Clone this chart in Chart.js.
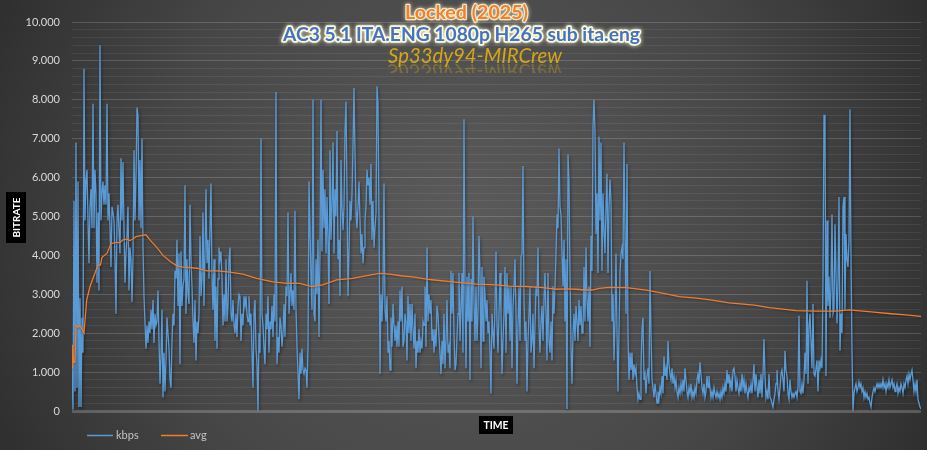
<!DOCTYPE html>
<html>
<head>
<meta charset="utf-8">
<script src="https://cdn.jsdelivr.net/npm/chart.js@4.4.1/dist/chart.umd.min.js"></script>
<style>
html,body{margin:0;padding:0;background:#3a3a3a;}
#wrap{width:927px;height:450px;position:relative;overflow:hidden;}
canvas{display:block;}
</style>
</head>
<body>
<div id="wrap"><canvas id="c" width="927" height="450"></canvas></div>
<script>
// ---------- DATA ----------
const titleLines = ['Locked (2025)', 'AC3 5.1 ITA.ENG 1080p H265 sub ita.eng', 'Sp33dy94-MIRCrew'];
const seriesNames = ['kbps', 'avg'];
const yAxisTitle = 'BITRATE';
const xAxisTitle = 'TIME';
const yTickLabels = ['0', '1.000', '2.000', '3.000', '4.000', '5.000', '6.000', '7.000', '8.000', '9.000', '10.000'];

// bitrate samples (kbps), evenly spaced in time
const kbps = [
  1100, 30, 5400, 500, 6900, 600, 5900, 100, 2900, 100,
  2400, 1500, 8800, 4900, 5900, 6200, 4900, 3800, 5250, 5700,
  4700, 7900, 4700, 6200, 5600, 3300, 5100, 3100, 9400, 4900,
  5600, 5900, 5300, 5800, 5300, 7900, 4900, 5600, 4700, 3700,
  5250, 5100, 4900, 3900, 2500, 4900, 5300, 4600, 4050, 6500,
  4900, 6400, 4700, 3300, 4050, 4500, 5250, 3100, 4200, 3900,
  2800, 3900, 6700, 4900, 6000, 7800, 7600, 4900, 6450, 4700,
  7000, 4200, 2950, 2250, 1600, 2200, 1750, 2300, 2000, 2600,
  2100, 2850, 1750, 2500, 2200, 2300, 3100, 1800, 700, 1400,
  2600, 350, 1500, 500, 1300, 2400, 2000, 1600, 800, 600,
  1800, 2500, 2200, 3600, 3400, 4400, 2700, 4050, 1200, 4100,
  2700, 3200, 3400, 5800, 2500, 3900, 3000, 2750, 5300, 3900,
  3200, 2300, 1750, 2850, 1300, 2300, 2000, 2500, 4500, 2950,
  3400, 5100, 2700, 4050, 5700, 3800, 4400, 3400, 4700, 5850,
  3450, 2600, 3900, 1800, 3200, 1600, 3400, 4200, 3900, 4100,
  3400, 2200, 3000, 2300, 3900, 2300, 2700, 3900, 4200, 2500,
  2300, 2850, 2200, 2000, 2500, 1900, 2700, 3000,

  2950, 1800, 2500, 2200, 2950, 2700, 2950, 2500, 2300, 2950,
  2200, 2500, 1500, 600, 2500, 2850, 1600, 1200, 0, 2000,
  1500, 7000, 2500, 2200, 1600, 1200, 2500, 2100, 2950, 1500,
  2300, 2100, 2700, 1900, 3000, 2300, 8200, 1200, 1900, 1500,
  2400, 2200, 1650, 2000, 2750, 1900, 3200, 2950, 5100, 2500,
  2950, 3550, 2700, 3100, 2600, 5150, 2600, 1650, 950, 300,
  1500, 950, 1600, 1050, 950, 1100, 1050, 600, 1650, 5900,
  4700, 3400, 2600, 8000, 2500, 2300, 3900, 3000, 4400, 1900,
  4100, 8000, 4100, 6200, 4700, 5700, 4050, 5500, 4400, 2750,
  6700, 4400, 5250, 6900, 4050, 5700, 5000, 7200, 3900, 4400,
  2950, 6450, 5250, 4650, 5250, 7200, 7950, 5600, 2950, 4050,
  5400, 4900, 5600, 6800, 8300, 6700, 5100, 4700, 5250, 5900,
  4900, 4050, 4550, 3800, 4200, 4900, 5250, 6200, 5800, 6000,
  5300, 6350, 4400, 5400, 4200, 4700, 5100, 8350, 7900, 4900,
  950, 3000, 2300, 3200, 5850, 2600, 2300, 2950, 1500, 1800,
  1050, 2400, 1650, 2750, 2250, 1800, 2200, 1650, 2300, 1650,
  3100, 2300, 3200, 1650, 1800, 2500, 2300, 1300, 2950, 2000,
  2750,

  1800, 2750, 2100, 1600, 2500, 1100, 1800, 1500, 2100, 1500,
  1800, 1600, 2300, 2200, 3200, 1650, 4200, 2300, 3000, 2500,
  2850, 1800, 2100, 1500, 2100, 1650, 2700, 2500, 1900, 1500,
  950, 1800, 1200, 2500, 1100, 1800, 2850, 1500, 1650, 1100,
  3600, 2500, 3550, 2000, 1050, 1200, 1900, 2500, 3550, 1800,
  2700, 3550, 1500, 7500, 3000, 1100, 3450, 2300, 3550, 800,
  3400, 2300, 5000, 2750, 1800, 3200, 1800, 2500, 4500, 3550,
  1100, 3700, 1800, 3450, 3000, 2300, 2850, 2000, 2300, 1500,
  450, 2500, 2000, 1600, 2700, 4100, 2200, 1500, 2500, 3550,
  2500, 950, 1800, 2500, 3700, 1500, 3550, 2500, 3200, 1800,
  3200, 1100, 2700, 3200, 3900, 2500, 700, 2200, 3200, 1800,
  3950, 4050, 6300, 2850, 1800, 2300, 500, 1800, 2500, 3200,
  1500, 1800, 2500, 1100, 2200, 3200, 2950, 4200, 2200, 1500,
  2300, 2700, 1800, 2850, 3550, 2500, 1300, 3550, 1800, 1500,
  2300, 1300, 3200, 2500, 3200, 4050, 5050, 4700, 6750, 5250,
  5050, 4050, 3200, 4400, 2300, 3900, 50, 6600, 5900, 3550,
  1650, 700, 2000, 2500, 1800, 2700, 2300, 1800, 2850, 2200,
  2700, 2000,

  2000, 3700, 2300, 4200, 2850, 2300, 3200, 1650, 4500, 3600,
  7300, 8000, 7200, 4550, 5600, 3550, 7050, 4900, 6900, 3600,
  5600, 4650, 4050, 5250, 6100, 3550, 5250, 5950, 5400, 2300,
  3000, 1300, 2300, 4050, 2000, 500, 2000, 3550, 4050, 4200,
  3900, 6900, 4550, 2500, 6350, 1900, 800, 1500, 1050, 1500,
  800, 1200, 950, 1100, 600, 300, 450, 300, 1100, 2100,
  2400, 800, 950, 450, 900, 1100, 700, 3600, 2000, 800,
  600, 350, 700, 450, 200, 500, 300, 600, 450, 900,
  450, 1400, 900, 1100, 800, 1800, 1200, 950, 800, 1100,
  700, 900, 600, 800, 500, 350, 600, 450, 700, 500,
  800, 500, 1100, 800, 500, 350, 600, 450, 700, 350,
  500, 350, 600, 450, 800, 950, 700, 1250, 950, 600,
  450, 700, 350, 500, 900, 600, 900, 600, 350, 500,
  350, 600, 450, 350, 500, 350, 450, 300, 500, 350,
  600, 450, 700, 500, 1050, 700, 950, 600, 800, 500,
  1050, 1100, 900, 500, 800, 600, 450, 700, 500, 950,
  600, 800, 450, 700, 500, 350, 600, 500, 700, 450,
  800, 1200,

  500, 950, 600, 350, 800, 450, 950, 350, 950, 1850,
  900, 350, 500, 300, 950, 350, 300, 200, 100, 300,
  450, 700, 1050, 500, 300, 600, 950, 1050, 800, 500,
  1550, 1050, 900, 450, 300, 800, 500, 350, 450, 350,
  450, 500, 350, 600, 2450, 500, 450, 700, 450, 800,
  1500, 950, 3350, 700, 2150, 2500, 1750, 1100, 2750, 950,
  900, 1100, 1300, 500, 1300, 1100, 1300, 1100, 3450, 7600,
  7600, 900, 4900, 2700, 3450, 2400, 3200, 5050, 2500, 2600,
  4800, 3550, 2250, 3350, 5500, 1550, 2500, 2000, 5250, 5500,
  2600, 4550, 3900, 3700, 4400, 7750, 3900, 1500, 0, 450,
  600, 700, 500, 600, 750, 600, 700, 500, 600, 350,
  500, 350, 450, 300, 350, 200, 100, 350, 500, 600,
  500, 600, 700, 600, 700, 600, 700, 600, 800, 600,
  700, 500, 700, 600, 800, 600, 700, 800, 600, 700,
  500, 600, 700, 450, 600, 500, 700, 600, 450, 700,
  600, 800, 900, 700, 950, 800, 950, 1050, 800, 500,
  700, 500, 800, 300, 200, 100, 50
];

// running average, read at these points of the running time (percent of duration)
const avgTimePct = [
  0, 0.08, 0.18, 0.35, 0.47, 0.71, 0.94, 1.18, 1.41, 1.73,
  2.12, 2.71, 3.06, 3.35, 3.53, 4.12, 4.59, 5.06, 5.65, 6.0,
  6.47, 6.82, 7.18, 7.53, 8.0, 8.71, 9.18, 10.0, 10.71, 11.53,
  12.35, 13.06, 14.71, 15.88, 17.06, 18.59, 20.12, 21.76, 23.65, 25.29,
  26.82, 28.24, 29.53, 31.18, 33.06, 34.71, 36.24, 37.41, 38.94, 40.12,
  42.12, 44.82, 47.65, 50.0, 51.53, 53.53, 55.41, 57.06, 58.24, 59.41,
  60.35, 61.29, 62.12, 63.29, 65.29, 67.65, 69.53, 71.53, 73.53, 75.41,
  77.41, 80.35, 82.12, 85.29, 87.65, 90.0, 91.53, 94.12, 96.47, 98.24,
  100
];
const avgKbps = [
  1100, 1700, 1250, 1250, 2200, 2150, 2200, 2100, 2000, 2850,
  3200, 3550, 3750, 3750, 3950, 4050, 4300, 4330, 4330, 4400,
  4420, 4380, 4420, 4480, 4500, 4530, 4400, 4200, 4000, 3850,
  3730, 3700, 3670, 3600, 3600, 3570, 3520, 3410, 3320, 3280,
  3280, 3200, 3240, 3370, 3410, 3480, 3540, 3520, 3470, 3450,
  3380, 3320, 3260, 3240, 3210, 3200, 3170, 3130, 3140, 3130,
  3110, 3110, 3150, 3180, 3170, 3110, 3030, 2940, 2900, 2850,
  2780, 2720, 2660, 2580, 2570, 2570, 2600, 2550, 2500, 2470,
  2430
];

// ---------- CHART ----------
const COL_KBPS = '#5B9BD5';
const COL_AVG = '#ED7D31';
const FONT = 'Lato, "Liberation Sans", sans-serif';

const N = kbps.length;
const kbpsPoints = kbps.map((v, i) => ({ x: i * 100 / (N - 1), y: v }));
const avgPoints = avgTimePct.map((t, i) => ({ x: t, y: avgKbps[i] }));

const bgPlugin = {
  id: 'bg',
  beforeDraw(chart) {
    const { ctx, width, height } = chart;
    ctx.save();
    const g = ctx.createRadialGradient(width * 0.5, height * 0.5, 10, width * 0.5, height * 0.5, width * 0.6);
    g.addColorStop(0, '#5a5a5a');
    g.addColorStop(0.55, '#474747');
    g.addColorStop(1, '#2a2a2a');
    ctx.fillStyle = g;
    ctx.fillRect(0, 0, width, height);
    ctx.restore();
  }
};

const shadowPlugin = {
  id: 'lineShadow',
  beforeDatasetDraw(chart, args) {
    const ctx = chart.ctx;
    ctx.save();
    if (args.index === 1) {
      ctx.shadowColor = 'rgba(0,0,0,0.45)';
      ctx.shadowBlur = 3;
      ctx.shadowOffsetX = 1;
      ctx.shadowOffsetY = 2;
    } else {
      ctx.shadowColor = 'rgba(0,0,0,0.3)';
      ctx.shadowBlur = 2;
      ctx.shadowOffsetY = 1;
    }
  },
  afterDatasetDraw(chart) {
    chart.ctx.restore();
  }
};

function fitFont(ctx, text, style, weight, target) {
  const base = 20;
  ctx.font = `${style} ${weight} ${base}px ${FONT}`;
  const w = ctx.measureText(text).width;
  const size = base * target / w;
  return `${style} ${weight} ${size.toFixed(2)}px ${FONT}`;
}

function glowText(ctx, text, font, cx, base, fill, glow, lw) {
  ctx.save();
  ctx.font = font;
  ctx.textAlign = 'center';
  ctx.textBaseline = 'alphabetic';
  ctx.lineJoin = 'round';
  ctx.shadowColor = glow;
  ctx.shadowBlur = 4;
  ctx.strokeStyle = glow;
  ctx.lineWidth = lw;
  ctx.strokeText(text, cx, base);
  ctx.shadowBlur = 0;
  ctx.fillStyle = fill;
  ctx.fillText(text, cx, base);
  ctx.restore();
}

const decorPlugin = {
  id: 'decor',
  afterDraw(chart) {
    const ctx = chart.ctx;
    // Titles
    glowText(ctx, titleLines[0], fitFont(ctx, titleLines[0], 'normal', 'bold', 123), 466.5, 18.5,
      '#F3802F', 'rgba(255,248,215,0.85)', 2.5);
    glowText(ctx, titleLines[1], fitFont(ctx, titleLines[1], 'normal', 'bold', 357), 461.5, 40.5,
      '#4472C4', 'rgba(255,252,220,0.95)', 3.5);
    // third line with reflection
    const f3 = fitFont(ctx, titleLines[2], 'italic', 'normal', 174);
    ctx.save();
    ctx.font = f3;
    ctx.textAlign = 'center';
    ctx.textBaseline = 'alphabetic';
    ctx.save();
    ctx.beginPath();
    ctx.rect(380, 64, 200, 9);
    ctx.clip();
    ctx.translate(0, 2 * 63 + 1);
    ctx.scale(1, -1);
    ctx.globalAlpha = 0.35;
    ctx.fillStyle = '#D6A615';
    ctx.fillText(titleLines[2], 475, 63);
    ctx.restore();
    ctx.fillStyle = '#D6A615';
    ctx.fillText(titleLines[2], 475, 63);
    ctx.restore();

    // Y axis title box
    ctx.save();
    ctx.fillStyle = '#000';
    ctx.fillRect(6, 192, 20, 51);
    ctx.translate(16.5, 217.5);
    ctx.rotate(-Math.PI / 2);
    ctx.fillStyle = '#fff';
    ctx.font = fitFont(ctx, yAxisTitle, 'normal', 'bold', 40);
    ctx.textAlign = 'center';
    ctx.textBaseline = 'middle';
    ctx.fillText(yAxisTitle, 0, 0);
    ctx.restore();

    // X axis title box
    ctx.save();
    ctx.fillStyle = '#000';
    ctx.fillRect(479, 416, 34, 18);
    ctx.fillStyle = '#fff';
    ctx.font = fitFont(ctx, xAxisTitle, 'normal', 'bold', 25);
    ctx.textAlign = 'center';
    ctx.textBaseline = 'middle';
    ctx.fillText(xAxisTitle, 496, 425.5);
    ctx.restore();

    // Legend
    ctx.save();
    ctx.lineWidth = 1.5;
    ctx.strokeStyle = COL_KBPS;
    ctx.beginPath(); ctx.moveTo(87, 435.5); ctx.lineTo(113, 435.5); ctx.stroke();
    ctx.strokeStyle = COL_AVG;
    ctx.beginPath(); ctx.moveTo(161, 435.5); ctx.lineTo(188, 435.5); ctx.stroke();
    ctx.fillStyle = '#c4c4c4';
    ctx.font = `11px ${FONT}`;
    ctx.textAlign = 'left';
    ctx.textBaseline = 'middle';
    ctx.fillText(seriesNames[0], 116, 435.5);
    ctx.fillText(seriesNames[1], 190, 435.5);
    ctx.restore();
  }
};

new Chart(document.getElementById('c'), {
  type: 'line',
  data: {
    datasets: [
      { label: seriesNames[1], data: avgPoints, borderColor: COL_AVG, borderWidth: 1.3,
        pointRadius: 0, tension: 0, order: 0 },
      { label: seriesNames[0], data: kbpsPoints, borderColor: COL_KBPS, borderWidth: 1.3,
        pointRadius: 0, tension: 0, order: 1 }
    ]
  },
  options: {
    responsive: false,
    animation: false,
    devicePixelRatio: 1,
    layout: { padding: { left: 0, right: 6, top: 22, bottom: 39 } },
    plugins: { legend: { display: false }, tooltip: { enabled: false }, title: { display: false } },
    scales: {
      x: { type: 'linear', min: 0, max: 100, display: false },
      y: {
        min: 0, max: 10000,
        afterFit(s) { s.width = 72; },
        border: { display: false },
        grid: {
          drawTicks: false,
          color: (c) => {
            const v = c.tick ? Math.round(c.tick.value) : 1;
            if (v === 0) return 'rgba(255,255,255,0.2)';
            return v % 1000 === 0 ? 'rgba(255,255,255,0.17)' : 'rgba(255,255,255,0.07)';
          },
          lineWidth: (c) => (c.tick && Math.round(c.tick.value) === 0 ? 3 : 1)
        },
        ticks: {
          stepSize: 200, maxTicksLimit: 100, autoSkip: false, padding: 12,
          color: '#d9d9d9', font: { family: FONT, size: 11 },
          callback: (v) => { const r = Math.round(v); return r % 1000 === 0 ? yTickLabels[r / 1000] : ''; }
        }
      }
    }
  },
  plugins: [bgPlugin, shadowPlugin, decorPlugin]
});
</script>
</body>
</html>
